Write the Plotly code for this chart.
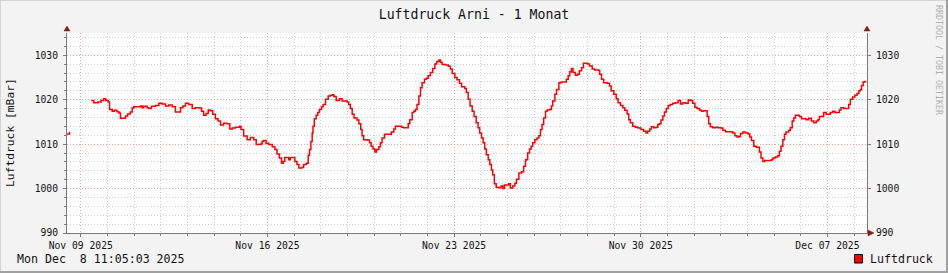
import pandas as pd
import plotly.graph_objects as go

# ---- data ----
# days since 2025-11-09 00:00
days = [
    -0.51, -0.42, -0.40,
    0.40, 0.49, 0.65, 0.76, 0.86, 0.94, 1.03, 1.08, 1.18, 1.26, 1.36, 1.43, 1.49, 1.61, 1.68,
    1.76, 1.86, 1.93, 1.99, 2.18, 2.24, 2.30, 2.36, 2.49, 2.55, 2.65, 2.80, 2.93, 3.05, 3.18,
    3.30, 3.43, 3.55, 3.68, 3.74, 3.83, 3.93, 4.05, 4.18, 4.30, 4.43, 4.53, 4.61, 4.70, 4.78,
    4.86, 4.95, 5.05, 5.15, 5.24, 5.36, 5.49, 5.59, 5.68, 5.80, 5.95, 6.01, 6.11, 6.24, 6.36,
    6.49, 6.58, 6.74, 6.80, 6.86, 6.95,
    7.05, 7.18, 7.28, 7.36, 7.45, 7.53, 7.59, 7.65, 7.74, 7.80, 7.86, 7.95, 8.03, 8.11, 8.18,
    8.30, 8.36, 8.46, 8.53, 8.58, 8.63, 8.68, 8.71, 8.76, 8.83, 8.89, 8.95, 9.03, 9.09, 9.18,
    9.28, 9.36, 9.45, 9.49, 9.58, 9.70, 9.80, 9.90, 9.99, 10.05, 10.11, 10.18, 10.25, 10.36,
    10.43, 10.50, 10.55, 10.61, 10.74, 10.83, 10.89, 10.96, 11.03, 11.09, 11.18, 11.24, 11.30,
    11.39, 11.49, 11.58, 11.65, 11.74, 11.80, 11.93, 12.03, 12.11, 12.20, 12.28, 12.34, 12.43,
    12.49, 12.55, 12.61, 12.68, 12.74, 12.80, 12.89, 12.96, 13.03, 13.11, 13.20, 13.28, 13.35,
    13.43, 13.49, 13.55, 13.68, 13.78, 13.86, 13.93, 14.03, 14.11, 14.20, 14.28,
    14.40, 14.46, 14.53, 14.60, 14.68, 14.75, 14.83, 14.90, 14.96, 15.03, 15.09, 15.15, 15.21,
    15.28, 15.34, 15.40, 15.45, 15.51, 15.58, 15.68, 15.76, 15.83, 15.89, 15.99, 16.05, 16.11,
    16.20, 16.28, 16.34, 16.43, 16.53, 16.61, 16.68, 16.76, 16.83, 16.89, 16.95, 17.03, 17.11,
    17.18, 17.24, 17.30, 17.36, 17.43, 17.49, 17.58, 17.65, 17.70, 17.78, 17.84, 17.93, 18.03,
    18.13, 18.21, 18.28, 18.34, 18.40, 18.46, 18.55, 18.63, 18.70, 18.78, 18.85, 18.93, 19.01,
    19.08, 19.18, 19.28, 19.40, 19.46, 19.53, 19.61, 19.74, 19.83, 19.89, 19.99, 20.08, 20.15,
    20.24, 20.33, 20.40, 20.49, 20.55, 20.61, 20.70, 20.80, 20.90, 21.01, 21.11, 21.20, 21.26,
    21.34, 21.40, 21.49, 21.58, 21.64, 21.70, 21.76, 21.83, 21.89, 21.96, 22.03, 22.11,
    22.20, 22.30, 22.40, 22.49, 22.58, 22.68, 22.78, 22.86, 22.95, 23.03, 23.11, 23.20, 23.28,
    23.36, 23.43, 23.49, 23.55, 23.61, 23.70, 23.80, 23.90, 23.99, 24.08, 24.18, 24.28, 24.36,
    24.45, 24.53, 24.61, 24.68, 24.74, 24.83, 24.93, 25.03, 25.09, 25.15, 25.24, 25.33, 25.40,
    25.45, 25.51, 25.58, 25.65, 25.74, 25.83, 25.90, 25.96, 26.05, 26.14, 26.20, 26.26, 26.33,
    26.39, 26.45, 26.55, 26.61, 26.68, 26.74, 26.80, 26.89, 26.95, 27.03, 27.11, 27.20, 27.30,
    27.40, 27.49, 27.58, 27.65, 27.70, 27.78, 27.86, 27.95, 28.05, 28.11, 28.20, 28.28, 28.36,
    28.45, 28.51, 28.61, 28.74, 28.80, 28.86, 28.95, 29.03, 29.11, 29.18, 29.24, 29.28, 29.34,
    29.40, 29.46,
]
pressure = [
    1012.3, 1012.8, None,
    1019.8, 1019.3, 1019.5, 1019.8, 1020.2, 1019.8, 1019.5, 1017.8, 1017.4, 1017.6, 1017.3,
    1017.0, 1015.8, 1015.8, 1016.3, 1016.8, 1017.2, 1018.1, 1018.4, 1018.4, 1018.6, 1018.2,
    1018.5, 1018.2, 1018.0, 1018.5, 1018.7, 1019.2, 1019.0, 1018.6, 1018.8, 1018.4, 1017.2,
    1017.2, 1018.2, 1018.6, 1019.2, 1018.9, 1018.0, 1018.2, 1018.1, 1017.4, 1016.5, 1016.9,
    1017.7, 1017.5, 1016.7, 1015.7, 1015.2, 1014.3, 1014.7, 1014.6, 1013.4, 1013.6, 1013.8,
    1014.0, 1013.3, 1011.8, 1011.0, 1011.5, 1011.0, 1009.9, 1010.0, 1010.6, 1010.8, 1010.2,
    1009.9, 1009.4, 1008.8, 1007.8, 1006.9, 1005.7, 1006.1, 1007.0, 1007.0, 1006.5, 1007.0,
    1007.0, 1006.1, 1005.4, 1004.6, 1004.8, 1005.4, 1005.7, 1007.5, 1008.8, 1010.6, 1012.5,
    1014.0, 1015.7, 1016.5, 1017.1, 1017.8, 1018.4, 1018.9, 1020.1, 1020.8, 1021.0, 1021.1,
    1020.7, 1019.8, 1020.2, 1019.7, 1019.7, 1019.5, 1018.9, 1018.0, 1016.7, 1015.9, 1015.4,
    1014.6, 1013.3, 1011.9, 1011.0, 1010.9, 1010.3, 1009.5, 1008.9, 1008.2, 1008.8, 1009.4,
    1010.3, 1011.4, 1012.2, 1012.2, 1012.2, 1012.7, 1013.4, 1014.0, 1014.0, 1013.8, 1013.7,
    1013.7, 1014.6, 1015.5, 1017.1, 1017.4, 1017.8, 1018.9, 1020.8, 1022.7, 1023.8, 1024.6,
    1024.8, 1025.4, 1026.1, 1027.0, 1028.0, 1028.6, 1028.9, 1028.4, 1027.9, 1027.8, 1027.5,
    1026.9, 1025.9, 1025.0, 1024.5, 1023.7, 1022.9,
    1022.5, 1021.6, 1020.1, 1018.6, 1017.4, 1016.2, 1014.8, 1013.7, 1012.5, 1011.4, 1010.3,
    1008.9, 1007.6, 1006.5, 1005.4, 1004.2, 1003.1, 1001.1, 1000.3, 1000.2, 1000.6, 1000.0,
    1000.8, 1000.8, 1001.1, 1000.1, 1000.6, 1001.2, 1002.1, 1003.5, 1003.8, 1005.0, 1006.5,
    1008.0, 1008.9, 1009.5, 1010.3, 1011.0, 1011.4, 1011.9, 1013.3, 1014.4, 1015.9, 1017.4,
    1017.7, 1017.8, 1018.6, 1019.7, 1021.2, 1022.3, 1023.8, 1024.0, 1024.0, 1024.6, 1025.4,
    1026.3, 1027.0, 1026.1, 1025.5, 1025.7, 1026.5, 1027.2, 1028.2, 1028.2, 1028.0, 1027.6,
    1026.9, 1026.7, 1026.6, 1025.7, 1024.6, 1023.8, 1023.7, 1023.1, 1022.0, 1021.2, 1020.2,
    1019.3, 1018.7, 1018.2, 1017.6, 1016.8, 1015.5, 1014.8, 1014.0, 1013.8, 1013.6, 1013.3,
    1012.9, 1012.5, 1012.9, 1013.4, 1013.9, 1013.7, 1013.8, 1014.4, 1014.6, 1015.4, 1016.3,
    1017.2, 1018.0, 1018.7, 1018.9,
    1019.2, 1019.3, 1019.8, 1019.0, 1019.3, 1019.2, 1019.9, 1019.8, 1019.2, 1018.3, 1018.0,
    1017.7, 1017.4, 1017.5, 1017.5, 1016.2, 1014.6, 1013.9, 1013.7, 1013.8, 1013.7, 1013.6,
    1013.1, 1012.8, 1012.8, 1012.8, 1012.5, 1011.9, 1011.6, 1011.7, 1012.4, 1012.7, 1012.5,
    1012.3, 1011.6, 1010.8, 1009.5, 1009.3, 1009.3, 1008.2, 1006.9, 1006.1, 1006.3, 1006.3,
    1006.3, 1006.5, 1006.9, 1007.1, 1007.4, 1008.4, 1009.5, 1011.0, 1012.2, 1012.7, 1013.1,
    1013.7, 1015.2, 1015.9, 1016.5, 1016.5, 1016.2, 1015.7, 1015.7, 1015.5, 1015.8, 1015.2,
    1014.8, 1015.2, 1015.5, 1016.2, 1016.2, 1017.1, 1016.7, 1016.7, 1017.1, 1017.4, 1017.1,
    1017.1, 1017.7, 1018.2, 1018.0, 1018.0, 1018.9, 1020.1, 1020.6, 1021.0, 1021.4, 1022.0,
    1022.3, 1023.2, 1024.0, 1024.1, 1024.1,
]

series_name = "Luftdruck"
title_text = "Luftdruck Arni - 1 Monat"
y_title = "Luftdruck [mBar]"
stamp_text = "Mon Dec\u00a0 8 11:05:03 2025"
watermark = "RRDTOOL / TOBI OETIKER"
y_range = [990, 1035]
x_start = -0.515
x_end = 29.485

base = pd.Timestamp("2025-11-09")
times = [base + pd.to_timedelta(d, unit="D") for d in days]
x_range = [base + pd.to_timedelta(x_start, unit="D"), base + pd.to_timedelta(x_end, unit="D")]

# ---- geometry ----
W, H = 948, 273
L, R, T, B = 67, 867, 33, 233


def px(xp):
    return (xp - L) / (R - L)


def py(yp):
    return (B - yp) / (B - T)


MONO = "DejaVu Sans Mono"
TXT = "#111111"
minor_grid = "#CFCFCF"
major_grid = "rgba(235,130,130,0.75)"
axis_col = "#7A7A7A"
arrow_col = "#8B1A1A"

fig = go.Figure()
fig.add_trace(go.Scatter(
    x=times, y=pressure, mode="lines", line=dict(color="#FF0000", width=1.5, shape="hv"),
    connectgaps=False, showlegend=False, name=series_name,
))
fig.add_trace(go.Scatter(x=[times[0]], y=[None], yaxis="y2", showlegend=False,
                         hoverinfo="skip", mode="lines"))

common_y = dict(
    range=y_range, dtick=10, tick0=990,
    showline=True, linecolor=axis_col, linewidth=1,
    ticks="outside", ticklen=3, tickcolor=axis_col,
    tickfont=dict(family=MONO, size=9.7, color=TXT),
    ticklabelstandoff=3, zeroline=False,
)

fig.update_layout(
    width=W, height=H, autosize=False,
    margin=dict(l=L, r=W - R, t=T, b=H - B, pad=0),
    paper_bgcolor="#F3F3F3", plot_bgcolor="#FFFFFF",
    title=dict(text=title_text, x=0.5, xref="container", xanchor="center",
               y=1 - 14 / H, yref="container", yanchor="middle",
               font=dict(family=MONO, size=13.2, color=TXT)),
    xaxis=dict(
        type="date", range=x_range, tick0="2025-11-09", dtick=7 * 86400000,
        tickformat="%b %d %Y", showgrid=True, gridcolor=major_grid, griddash="1px,2px",
        gridwidth=1,
        minor=dict(dtick=86400000, showgrid=True, gridcolor=minor_grid, griddash="1px,2px",
                   ticks="outside", ticklen=2, tickcolor=axis_col),
        showline=True, linecolor=axis_col, linewidth=1,
        ticks="outside", ticklen=3, tickcolor=axis_col,
        tickfont=dict(family=MONO, size=9.7, color=TXT), zeroline=False,
    ),
    yaxis=dict(
        **common_y, showgrid=True, gridcolor=major_grid, griddash="1px,2px",
        minor=dict(dtick=2, showgrid=True, gridcolor=minor_grid, griddash="1px,2px",
                   ticks="outside", ticklen=2, tickcolor=axis_col),
    ),
    yaxis2=dict(**common_y, overlaying="y", side="right", anchor="x", showgrid=False),
    showlegend=False,
)

shapes = []
# frame of the canvas
shapes.append(dict(type="line", xref="paper", yref="paper", x0=px(0), x1=px(W), y0=py(0.5), y1=py(0.5),
                   line=dict(color="#D4D4D4", width=1)))
shapes.append(dict(type="line", xref="paper", yref="paper", x0=px(0.5), x1=px(0.5), y0=py(0), y1=py(H),
                   line=dict(color="#D4D4D4", width=1)))
shapes.append(dict(type="line", xref="paper", yref="paper", x0=px(947), x1=px(947), y0=py(0), y1=py(H),
                   line=dict(color="#A0A0A0", width=2)))
shapes.append(dict(type="line", xref="paper", yref="paper", x0=px(0), x1=px(W), y0=py(272), y1=py(272),
                   line=dict(color="#A0A0A0", width=2)))
# axis arrows
for ax in (L, R):
    shapes.append(dict(type="path", xref="paper", yref="paper",
                       path=f"M {px(ax - 3)},{py(31)} L {px(ax + 3)},{py(31)} L {px(ax)},{py(26)} Z",
                       fillcolor=arrow_col, line=dict(color=arrow_col, width=0.5)))
shapes.append(dict(type="path", xref="paper", yref="paper",
                   path=f"M {px(868)},{py(230)} L {px(868)},{py(236)} L {px(874)},{py(233)} Z",
                   fillcolor=arrow_col, line=dict(color=arrow_col, width=0.5)))
# legend box
shapes.append(dict(type="rect", xref="paper", yref="paper", x0=px(854.5), x1=px(862.5),
                   y0=py(254.5), y1=py(263), fillcolor="#FF0000", line=dict(color="#000000", width=1)))
fig.update_layout(shapes=shapes)

annotations = [
    dict(text=y_title, xref="paper", yref="paper", x=px(10), y=0.5, textangle=-90,
         showarrow=False, xanchor="center", yanchor="middle",
         font=dict(family=MONO, size=11.3, color=TXT)),
    dict(text=stamp_text, xref="paper", yref="paper", x=px(15), y=py(258.7),
         showarrow=False, xanchor="left", yanchor="middle",
         font=dict(family=MONO, size=11.6, color=TXT)),
    dict(text=series_name, xref="paper", yref="paper", x=px(868), y=py(258.7),
         showarrow=False, xanchor="left", yanchor="middle",
         font=dict(family=MONO, size=11.6, color=TXT)),
    dict(text=watermark, xref="paper", yref="paper", x=px(939), y=py(60), textangle=90,
         showarrow=False, xanchor="center", yanchor="middle",
         font=dict(family=MONO, size=8.3, color="#B0B0B0")),
]
fig.update_layout(annotations=annotations)

fig.write_html("out.html")
